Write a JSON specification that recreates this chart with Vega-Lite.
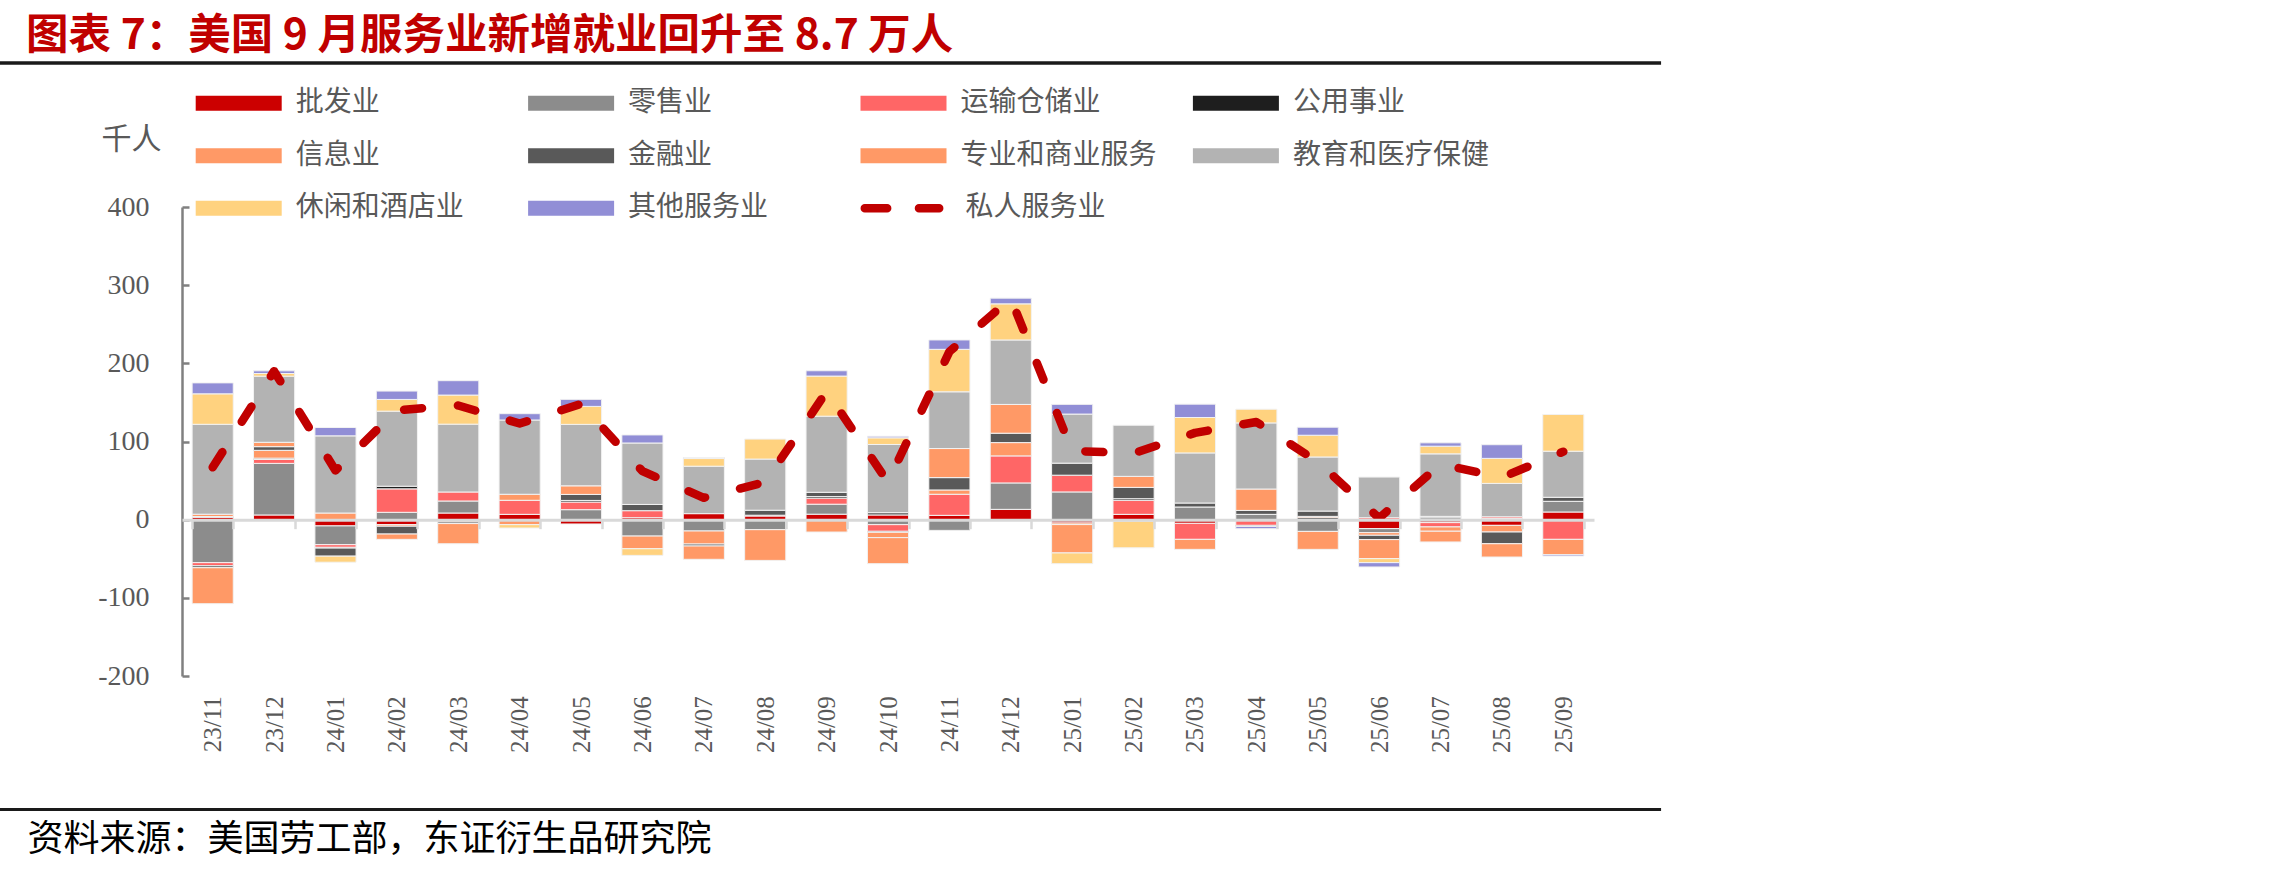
{
  "$schema": "https://vega.github.io/schema/vega-lite/v6.json",
  "width": 1412,
  "height": 469,
  "autosize": {"type": "none"},
  "padding": {"left": 182, "top": 207, "right": 691, "bottom": 198},
  "background": "white",
  "config": {"view": {"stroke": null}, "font": "Noto Sans CJK SC"},
  "title": {
    "text": "图表 7：美国 9 月服务业新增就业回升至 8.7 万人",
    "anchor": "start", "frame": "group", "orient": "top",
    "font": "Noto Sans CJK SC", "fontSize": 42.5, "fontWeight": "bold",
    "color": "#C00000", "dx": -156, "dy": 6, "offset": 10
  },
  "datasets": {
    "bars": [
      {"month":"23/11","sector":"批发业","code":1,"value":3},
      {"month":"23/11","sector":"零售业","code":2,"value":-55},
      {"month":"23/11","sector":"运输仓储业","code":3,"value":-4},
      {"month":"23/11","sector":"公用事业","code":4,"value":1},
      {"month":"23/11","sector":"信息业","code":5,"value":3},
      {"month":"23/11","sector":"金融业","code":6,"value":-2.5},
      {"month":"23/11","sector":"专业和商业服务","code":7,"value":-46},
      {"month":"23/11","sector":"教育和医疗保健","code":8,"value":115},
      {"month":"23/11","sector":"休闲和酒店业","code":9,"value":39},
      {"month":"23/11","sector":"其他服务业","code":10,"value":14},

      {"month":"23/12","sector":"批发业","code":1,"value":6},
      {"month":"23/12","sector":"零售业","code":2,"value":66},
      {"month":"23/12","sector":"运输仓储业","code":3,"value":5},
      {"month":"23/12","sector":"公用事业","code":4,"value":1.7},
      {"month":"23/12","sector":"信息业","code":5,"value":10},
      {"month":"23/12","sector":"金融业","code":6,"value":4.7},
      {"month":"23/12","sector":"专业和商业服务","code":7,"value":5.6},
      {"month":"23/12","sector":"教育和医疗保健","code":8,"value":84.6},
      {"month":"23/12","sector":"休闲和酒店业","code":9,"value":3.4},
      {"month":"23/12","sector":"其他服务业","code":10,"value":3.4},

      {"month":"24/01","sector":"批发业","code":1,"value":-8},
      {"month":"24/01","sector":"零售业","code":2,"value":-24},
      {"month":"24/01","sector":"运输仓储业","code":3,"value":-3.4},
      {"month":"24/01","sector":"公用事业","code":4,"value":-1},
      {"month":"24/01","sector":"金融业","code":6,"value":-10.3},
      {"month":"24/01","sector":"专业和商业服务","code":7,"value":8.5},
      {"month":"24/01","sector":"教育和医疗保健","code":8,"value":98.7},
      {"month":"24/01","sector":"休闲和酒店业","code":9,"value":-7.7},
      {"month":"24/01","sector":"其他服务业","code":10,"value":10.7},

      {"month":"24/02","sector":"批发业","code":1,"value":-6.4},
      {"month":"24/02","sector":"零售业","code":2,"value":9.4},
      {"month":"24/02","sector":"运输仓储业","code":3,"value":30},
      {"month":"24/02","sector":"公用事业","code":4,"value":3.4},
      {"month":"24/02","sector":"信息业","code":5,"value":-2},
      {"month":"24/02","sector":"金融业","code":6,"value":-10},
      {"month":"24/02","sector":"专业和商业服务","code":7,"value":-6.8},
      {"month":"24/02","sector":"教育和医疗保健","code":8,"value":96},
      {"month":"24/02","sector":"休闲和酒店业","code":9,"value":15},
      {"month":"24/02","sector":"其他服务业","code":10,"value":10.7},

      {"month":"24/03","sector":"批发业","code":1,"value":8.5},
      {"month":"24/03","sector":"零售业","code":2,"value":15.4},
      {"month":"24/03","sector":"运输仓储业","code":3,"value":11.5},
      {"month":"24/03","sector":"信息业","code":5,"value":-3},
      {"month":"24/03","sector":"金融业","code":6,"value":-2},
      {"month":"24/03","sector":"专业和商业服务","code":7,"value":-25.8},
      {"month":"24/03","sector":"教育和医疗保健","code":8,"value":86.8},
      {"month":"24/03","sector":"休闲和酒店业","code":9,"value":37.2},
      {"month":"24/03","sector":"其他服务业","code":10,"value":18.4},

      {"month":"24/04","sector":"批发业","code":1,"value":6.8},
      {"month":"24/04","sector":"运输仓储业","code":3,"value":18},
      {"month":"24/04","sector":"信息业","code":5,"value":7.7},
      {"month":"24/04","sector":"专业和商业服务","code":7,"value":-6.4},
      {"month":"24/04","sector":"教育和医疗保健","code":8,"value":95},
      {"month":"24/04","sector":"休闲和酒店业","code":9,"value":-4.3},
      {"month":"24/04","sector":"其他服务业","code":10,"value":8.1},

      {"month":"24/05","sector":"批发业","code":1,"value":-5.5},
      {"month":"24/05","sector":"零售业","code":2,"value":12.8},
      {"month":"24/05","sector":"运输仓储业","code":3,"value":9.8},
      {"month":"24/05","sector":"公用事业","code":4,"value":2},
      {"month":"24/05","sector":"金融业","code":6,"value":7.7},
      {"month":"24/05","sector":"专业和商业服务","code":7,"value":11},
      {"month":"24/05","sector":"教育和医疗保健","code":8,"value":78.6},
      {"month":"24/05","sector":"休闲和酒店业","code":9,"value":23},
      {"month":"24/05","sector":"其他服务业","code":10,"value":9},

      {"month":"24/06","sector":"批发业","code":1,"value":2.5},
      {"month":"24/06","sector":"零售业","code":2,"value":-21},
      {"month":"24/06","sector":"运输仓储业","code":3,"value":9},
      {"month":"24/06","sector":"金融业","code":6,"value":8},
      {"month":"24/06","sector":"专业和商业服务","code":7,"value":-16.2},
      {"month":"24/06","sector":"教育和医疗保健","code":8,"value":78.6},
      {"month":"24/06","sector":"休闲和酒店业","code":9,"value":-8.5},
      {"month":"24/06","sector":"其他服务业","code":10,"value":10.3},

      {"month":"24/07","sector":"批发业","code":1,"value":7.7},
      {"month":"24/07","sector":"零售业","code":2,"value":-14.5},
      {"month":"24/07","sector":"信息业","code":5,"value":-16.7},
      {"month":"24/07","sector":"金融业","code":6,"value":-2.5},
      {"month":"24/07","sector":"专业和商业服务","code":7,"value":-17},
      {"month":"24/07","sector":"教育和医疗保健","code":8,"value":60.7},
      {"month":"24/07","sector":"休闲和酒店业","code":9,"value":9.8},
      {"month":"24/07","sector":"其他服务业","code":10,"value":1.3},

      {"month":"24/08","sector":"批发业","code":1,"value":4.7},
      {"month":"24/08","sector":"零售业","code":2,"value":-12.8},
      {"month":"24/08","sector":"运输仓储业","code":3,"value":1},
      {"month":"24/08","sector":"金融业","code":6,"value":6.4},
      {"month":"24/08","sector":"专业和商业服务","code":7,"value":-39.3},
      {"month":"24/08","sector":"教育和医疗保健","code":8,"value":65.4},
      {"month":"24/08","sector":"休闲和酒店业","code":9,"value":25.6},

      {"month":"24/09","sector":"批发业","code":1,"value":7},
      {"month":"24/09","sector":"零售业","code":2,"value":12.8},
      {"month":"24/09","sector":"运输仓储业","code":3,"value":7.7},
      {"month":"24/09","sector":"公用事业","code":4,"value":2},
      {"month":"24/09","sector":"金融业","code":6,"value":5.5},
      {"month":"24/09","sector":"专业和商业服务","code":7,"value":-15.8},
      {"month":"24/09","sector":"教育和医疗保健","code":8,"value":97.4},
      {"month":"24/09","sector":"休闲和酒店业","code":9,"value":51.3},
      {"month":"24/09","sector":"其他服务业","code":10,"value":6.8},

      {"month":"24/10","sector":"批发业","code":1,"value":6},
      {"month":"24/10","sector":"零售业","code":2,"value":-6.4},
      {"month":"24/10","sector":"运输仓储业","code":3,"value":-8.5},
      {"month":"24/10","sector":"公用事业","code":4,"value":-1.3},
      {"month":"24/10","sector":"信息业","code":5,"value":-6.8},
      {"month":"24/10","sector":"金融业","code":6,"value":3},
      {"month":"24/10","sector":"专业和商业服务","code":7,"value":-33.3},
      {"month":"24/10","sector":"教育和医疗保健","code":8,"value":87.2},
      {"month":"24/10","sector":"休闲和酒店业","code":9,"value":8.5},
      {"month":"24/10","sector":"其他服务业","code":10,"value":2},

      {"month":"24/11","sector":"批发业","code":1,"value":5.5},
      {"month":"24/11","sector":"零售业","code":2,"value":-13.7},
      {"month":"24/11","sector":"运输仓储业","code":3,"value":27},
      {"month":"24/11","sector":"信息业","code":5,"value":5.5},
      {"month":"24/11","sector":"金融业","code":6,"value":15.8},
      {"month":"24/11","sector":"专业和商业服务","code":7,"value":37.2},
      {"month":"24/11","sector":"教育和医疗保健","code":8,"value":72.6},
      {"month":"24/11","sector":"休闲和酒店业","code":9,"value":54.3},
      {"month":"24/11","sector":"其他服务业","code":10,"value":12},

      {"month":"24/12","sector":"批发业","code":1,"value":13.2},
      {"month":"24/12","sector":"零售业","code":2,"value":33.8},
      {"month":"24/12","sector":"运输仓储业","code":3,"value":34.6},
      {"month":"24/12","sector":"信息业","code":5,"value":17},
      {"month":"24/12","sector":"金融业","code":6,"value":12},
      {"month":"24/12","sector":"专业和商业服务","code":7,"value":36.8},
      {"month":"24/12","sector":"教育和医疗保健","code":8,"value":82.5},
      {"month":"24/12","sector":"休闲和酒店业","code":9,"value":46.2},
      {"month":"24/12","sector":"其他服务业","code":10,"value":7.3},

      {"month":"25/01","sector":"批发业","code":1,"value":-4.3},
      {"month":"25/01","sector":"零售业","code":2,"value":35.5},
      {"month":"25/01","sector":"运输仓储业","code":3,"value":21.4},
      {"month":"25/01","sector":"信息业","code":5,"value":-2},
      {"month":"25/01","sector":"金融业","code":6,"value":15.4},
      {"month":"25/01","sector":"专业和商业服务","code":7,"value":-36.3},
      {"month":"25/01","sector":"教育和医疗保健","code":8,"value":62.8},
      {"month":"25/01","sector":"休闲和酒店业","code":9,"value":-13.7},
      {"month":"25/01","sector":"其他服务业","code":10,"value":12.4},

      {"month":"25/02","sector":"批发业","code":1,"value":6.8},
      {"month":"25/02","sector":"零售业","code":2,"value":-2},
      {"month":"25/02","sector":"运输仓储业","code":3,"value":18},
      {"month":"25/02","sector":"公用事业","code":4,"value":2},
      {"month":"25/02","sector":"金融业","code":6,"value":14.5},
      {"month":"25/02","sector":"专业和商业服务","code":7,"value":14.1},
      {"month":"25/02","sector":"教育和医疗保健","code":8,"value":65.4},
      {"month":"25/02","sector":"休闲和酒店业","code":9,"value":-34},

      {"month":"25/03","sector":"批发业","code":1,"value":-4.7},
      {"month":"25/03","sector":"零售业","code":2,"value":16.2},
      {"month":"25/03","sector":"运输仓储业","code":3,"value":-20.5},
      {"month":"25/03","sector":"金融业","code":6,"value":5.1},
      {"month":"25/03","sector":"专业和商业服务","code":7,"value":-12.8},
      {"month":"25/03","sector":"教育和医疗保健","code":8,"value":64.1},
      {"month":"25/03","sector":"休闲和酒店业","code":9,"value":45.3},
      {"month":"25/03","sector":"其他服务业","code":10,"value":17.1},

      {"month":"25/04","sector":"零售业","code":2,"value":6.8},
      {"month":"25/04","sector":"运输仓储业","code":3,"value":-7.3},
      {"month":"25/04","sector":"公用事业","code":4,"value":-1.3},
      {"month":"25/04","sector":"金融业","code":6,"value":5},
      {"month":"25/04","sector":"专业和商业服务","code":7,"value":27.4},
      {"month":"25/04","sector":"教育和医疗保健","code":8,"value":84.6},
      {"month":"25/04","sector":"休闲和酒店业","code":9,"value":17.5},
      {"month":"25/04","sector":"其他服务业","code":10,"value":-3},

      {"month":"25/05","sector":"零售业","code":2,"value":-15},
      {"month":"25/05","sector":"公用事业","code":4,"value":2.5},
      {"month":"25/05","sector":"信息业","code":5,"value":1.7},
      {"month":"25/05","sector":"金融业","code":6,"value":6.8},
      {"month":"25/05","sector":"专业和商业服务","code":7,"value":-23},
      {"month":"25/05","sector":"教育和医疗保健","code":8,"value":69.2},
      {"month":"25/05","sector":"休闲和酒店业","code":9,"value":27.8},
      {"month":"25/05","sector":"其他服务业","code":10,"value":10.3},

      {"month":"25/06","sector":"批发业","code":1,"value":-11.5},
      {"month":"25/06","sector":"零售业","code":2,"value":-5.1},
      {"month":"25/06","sector":"运输仓储业","code":3,"value":2.5},
      {"month":"25/06","sector":"信息业","code":5,"value":-3.4},
      {"month":"25/06","sector":"金融业","code":6,"value":-5.5},
      {"month":"25/06","sector":"专业和商业服务","code":7,"value":-24.4},
      {"month":"25/06","sector":"教育和医疗保健","code":8,"value":52},
      {"month":"25/06","sector":"休闲和酒店业","code":9,"value":-5.1},
      {"month":"25/06","sector":"其他服务业","code":10,"value":-5.5},

      {"month":"25/07","sector":"批发业","code":1,"value":-3.8},
      {"month":"25/07","sector":"零售业","code":2,"value":2.5},
      {"month":"25/07","sector":"运输仓储业","code":3,"value":-5.5},
      {"month":"25/07","sector":"信息业","code":5,"value":-5.5},
      {"month":"25/07","sector":"金融业","code":6,"value":1.7},
      {"month":"25/07","sector":"专业和商业服务","code":7,"value":-13.7},
      {"month":"25/07","sector":"教育和医疗保健","code":8,"value":80},
      {"month":"25/07","sector":"休闲和酒店业","code":9,"value":9.8},
      {"month":"25/07","sector":"其他服务业","code":10,"value":4.3},

      {"month":"25/08","sector":"批发业","code":1,"value":-7.3},
      {"month":"25/08","sector":"零售业","code":2,"value":1.7},
      {"month":"25/08","sector":"运输仓储业","code":3,"value":2},
      {"month":"25/08","sector":"信息业","code":5,"value":-8.5},
      {"month":"25/08","sector":"金融业","code":6,"value":-15},
      {"month":"25/08","sector":"专业和商业服务","code":7,"value":-17},
      {"month":"25/08","sector":"教育和医疗保健","code":8,"value":42.7},
      {"month":"25/08","sector":"休闲和酒店业","code":9,"value":32},
      {"month":"25/08","sector":"其他服务业","code":10,"value":17.5},

      {"month":"25/09","sector":"批发业","code":1,"value":9.8},
      {"month":"25/09","sector":"零售业","code":2,"value":13.7},
      {"month":"25/09","sector":"运输仓储业","code":3,"value":-25.2},
      {"month":"25/09","sector":"金融业","code":6,"value":5.1},
      {"month":"25/09","sector":"专业和商业服务","code":7,"value":-19.7},
      {"month":"25/09","sector":"教育和医疗保健","code":8,"value":59},
      {"month":"25/09","sector":"休闲和酒店业","code":9,"value":47},
      {"month":"25/09","sector":"其他服务业","code":10,"value":-1.7}
    ],
    "line": [
      {"month":"23/11","series":"私人服务业","value":67},
      {"month":"23/12","series":"私人服务业","value":190},
      {"month":"24/01","series":"私人服务业","value":63},
      {"month":"24/02","series":"私人服务业","value":140},
      {"month":"24/03","series":"私人服务业","value":146},
      {"month":"24/04","series":"私人服务业","value":123},
      {"month":"24/05","series":"私人服务业","value":148},
      {"month":"24/06","series":"私人服务业","value":62},
      {"month":"24/07","series":"私人服务业","value":28},
      {"month":"24/08","series":"私人服务业","value":48},
      {"month":"24/09","series":"私人服务业","value":164},
      {"month":"24/10","series":"私人服务业","value":48},
      {"month":"24/11","series":"私人服务业","value":215},
      {"month":"24/12","series":"私人服务业","value":283},
      {"month":"25/01","series":"私人服务业","value":88},
      {"month":"25/02","series":"私人服务业","value":85},
      {"month":"25/03","series":"私人服务业","value":111},
      {"month":"25/04","series":"私人服务业","value":125},
      {"month":"25/05","series":"私人服务业","value":74},
      {"month":"25/06","series":"私人服务业","value":2},
      {"month":"25/07","series":"私人服务业","value":71},
      {"month":"25/08","series":"私人服务业","value":54},
      {"month":"25/09","series":"私人服务业","value":87}
    ]
  },
  "layer": [
    {
      "layer": [
        {
          "data": {"name": "bars"},
          "mark": {"type": "bar", "stroke": "#f2f2f2", "strokeWidth": 1},
          "encoding": {
            "x": {
              "field": "month", "type": "ordinal", "title": "资料来源：美国劳工部，东证衍生品研究院",
              "scale": {"paddingInner": 0.33, "paddingOuter": 0.165},
              "axis": {
                "offset": -156.33, "zindex": 1,
                "domainColor": "#d9d9d9", "domainWidth": 3,
                "tickColor": "#d9d9d9", "tickWidth": 2.5, "tickSize": 9, "tickBand": "extent",
                "labelAngle": -90, "labelPadding": 167,
                "labelFont": "Liberation Serif", "labelFontSize": 25, "labelColor": "#595959",
                "titleX": -155, "titleY": 320.3, "titleAlign": "left", "titleBaseline": "middle",
                "titleAngle": 0, "titleFont": "Noto Sans CJK SC", "titleFontSize": 36,
                "titleFontWeight": "normal", "titleColor": "#000000"
              }
            },
            "y": {
              "field": "value", "type": "quantitative", "stack": "zero", "title": "千人",
              "scale": {"domain": [-200, 400], "nice": false, "zero": false},
              "axis": {
                "values": [-200, -100, 0, 100, 200, 300, 400], "grid": false,
                "labelExpr": "'' + datum.value",
                "domainColor": "#808080", "domainWidth": 2.5,
                "tickColor": "#808080", "tickWidth": 2.5, "tickSize": -7,
                "labelFont": "Liberation Serif", "labelFontSize": 28, "labelColor": "#595959",
                "labelPadding": 40,
                "titleX": -51, "titleY": -68, "titleAngle": 0, "titleAlign": "center",
                "titleBaseline": "middle", "titleFont": "Noto Sans CJK SC", "titleFontSize": 30,
                "titleFontWeight": "normal", "titleColor": "#595959"
              }
            },
            "color": {
              "field": "sector", "type": "nominal",
              "scale": {
                "domain": ["批发业", "零售业", "运输仓储业", "公用事业", "信息业", "金融业", "专业和商业服务", "教育和医疗保健", "休闲和酒店业", "其他服务业"],
                "range": ["#CC0000", "#8C8C8C", "#FF6666", "#1E1E1E", "#FF9966", "#595959", "#FF9966", "#B3B3B3", "#FFD27F", "#918ED6"]
              },
              "legend": {
                "orient": "none", "legendX": 13.7, "legendY": -117.7,
                "direction": "horizontal",
                "columns": 4, "gridAlign": "all", "columnPadding": 35.4, "rowPadding": 24.5,
                "title": null, "padding": 0,
                "symbolType": "M-1,-0.536H5.143V0.536H-1Z", "symbolSize": 784,
                "symbolStrokeWidth": 0, "symbolOpacity": 1,
                "labelFont": "Noto Sans CJK SC", "labelFontSize": 28, "labelColor": "#595959",
                "labelOffset": 72, "labelLimit": 400
              }
            },
            "order": {"field": "code", "type": "quantitative", "sort": "ascending"}
          }
        },
        {
          "data": {"name": "line"},
          "mark": {"type": "line", "strokeWidth": 8.5, "strokeDash": [18, 36], "strokeCap": "round", "strokeJoin": "round"},
          "encoding": {
            "x": {"field": "month", "type": "ordinal", "title": "资料来源：美国劳工部，东证衍生品研究院"},
            "y": {"field": "value", "type": "quantitative", "title": "千人"},
            "stroke": {
              "field": "series", "type": "nominal",
              "scale": {"domain": ["私人服务业"], "range": ["#C00000"]},
              "legend": {
                "orient": "none", "legendX": 674, "legendY": -46.2,
                "title": null, "padding": 0,
                "symbolType": "M-0.9,0H-0.38M0.36,0H0.83", "symbolSize": 7396,
                "symbolStrokeWidth": 8.5, "symbolDash": [200, 0],
                "labelFont": "Noto Sans CJK SC", "labelFontSize": 28, "labelColor": "#595959",
                "labelOffset": 14.5, "labelLimit": 400,
                "encode": {"symbols": {"update": {"strokeCap": {"value": "round"}, "strokeDash": {"value": [200, 0]}}}}
              }
            }
          }
        }
      ]
    },
    {
      "data": {"values": [{}]},
      "mark": {"type": "rule", "color": "#1a1a1a", "strokeWidth": 3.5, "clip": false},
      "encoding": {
        "x": {"datum": -0.1289, "type": "quantitative", "scale": {"domain": [0, 1], "nice": false, "zero": false}, "axis": null},
        "x2": {"datum": 1.0475},
        "y": {"datum": 584.2, "type": "quantitative"}
      }
    },
    {
      "data": {"values": [{}]},
      "mark": {"type": "rule", "color": "#1a1a1a", "strokeWidth": 3, "clip": false},
      "encoding": {
        "x": {"datum": -0.1289, "type": "quantitative", "scale": {"domain": [0, 1], "nice": false, "zero": false}, "axis": null},
        "x2": {"datum": 1.0475},
        "y": {"datum": -370.8, "type": "quantitative"}
      }
    }
  ],
  "resolve": {"scale": {"x": "independent"}}
}
